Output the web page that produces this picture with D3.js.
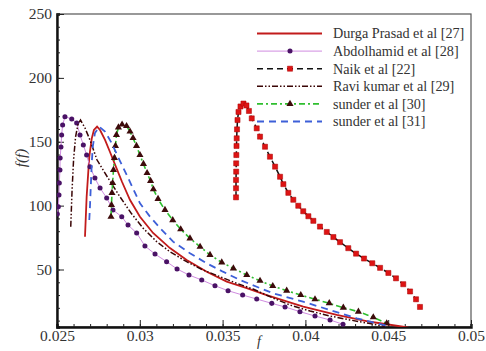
<!DOCTYPE html>
<html>
<head>
<meta charset="utf-8">
<script src="https://cdn.jsdelivr.net/npm/d3@7"></script>
<style>
  html, body { margin: 0; padding: 0; background: #fff; }
  svg { display: block; }
  svg text { font-family: "Liberation Serif", "DejaVu Serif", "Times New Roman", Times, serif; fill: #333; }
</style>
</head>
<body>
<svg id="chart" width="486" height="351"></svg>
<script>
const X_TICKS = [0.025, 0.03, 0.035, 0.04, 0.045, 0.05];
const X_TICK_LABELS = ["0.025", "0.03", "0.035", "0.04", "0.045", "0.05"];
const Y_TICKS = [50, 100, 150, 200, 250];

const durgaPrasad = [
  [0.02669, 75.7], [0.02679, 107], [0.02695, 138.3], [0.02710, 152.7], [0.02723, 159.2],
  [0.02742, 161.9], [0.02760, 159.2], [0.02790, 151.4], [0.02820, 142.0], [0.02856, 130.3],
  [0.02893, 118.5], [0.02941, 104.4], [0.03001, 91.3], [0.03080, 78.6], [0.03182, 66.8],
  [0.03283, 57.4], [0.03404, 48.2], [0.03525, 40.5], [0.03646, 35.5], [0.03766, 30.0],
  [0.03987, 20.9], [0.04189, 14.4], [0.04390, 9.1], [0.04589, 5.2], [0.0466, 3.5],
];

const abdolhamid = [
  [0.02502, 93.4], [0.02508, 99.2], [0.02512, 108.3], [0.02514, 117.7], [0.02518, 127.9],
  [0.02519, 137.3], [0.02524, 145.9], [0.02528, 155.3], [0.02534, 163.1], [0.02548, 169.6],
  [0.02589, 167.8], [0.02619, 164.7], [0.02639, 155.3], [0.02659, 147.5], [0.02679, 139.6],
  [0.02699, 130.5], [0.02729, 121.6], [0.02760, 113.8], [0.02800, 106.0], [0.02838, 96.6],
  [0.02891, 91.3], [0.02929, 84.8], [0.02981, 78.6], [0.03031, 68.4], [0.03092, 62.1],
  [0.03162, 56.1], [0.03225, 50.4], [0.03297, 45.7], [0.03374, 41.8], [0.03454, 37.3],
  [0.03533, 33.4], [0.03621, 30.0], [0.03706, 26.9], [0.03797, 23.5], [0.03877, 20.7],
  [0.03967, 17.0], [0.04058, 13.6], [0.04149, 10.5], [0.04227, 7.1],
];

const naik = [
  [0.03581, 106.5], [0.03581, 113.6], [0.03581, 120.1], [0.03582, 126.6], [0.03582, 133.1],
  [0.03583, 139.6], [0.03584, 146.7], [0.03585, 152.7], [0.03587, 159.7], [0.03590, 167.0],
  [0.03596, 173.3], [0.03608, 177.6], [0.03626, 179.9], [0.03644, 178.4], [0.03659, 174.1],
  [0.03676, 168.3], [0.03706, 160.5], [0.03726, 154.0], [0.03756, 146.1], [0.03786, 138.3],
  [0.03817, 130.5], [0.03847, 122.6], [0.03867, 116.8], [0.03897, 110.0], [0.03927, 104.6],
  [0.03957, 99.9], [0.03987, 95.6], [0.04018, 91.7], [0.04048, 88.1], [0.04088, 83.6],
  [0.04129, 79.4], [0.04169, 75.4], [0.04209, 71.4], [0.04259, 66.7], [0.04306, 62.4],
  [0.04354, 58.6], [0.04404, 54.9], [0.04451, 51.3], [0.04501, 47.3], [0.04547, 43.1],
  [0.04591, 38.5], [0.04632, 32.8], [0.04668, 26.7], [0.04692, 20.7],
];

const raviKumar = [
  [0.02583, 83.5], [0.02591, 112.2], [0.02600, 135.7], [0.02612, 153.7], [0.02627, 163.9],
  [0.02642, 167.0], [0.02669, 160.8], [0.02699, 151.4], [0.02742, 135.7], [0.02808, 121.6],
  [0.02880, 107.0], [0.02947, 94.2], [0.03019, 82.5], [0.03102, 71.8], [0.03182, 63.9],
  [0.03283, 56.1], [0.03382, 49.6], [0.03484, 44.4], [0.03585, 39.2], [0.03684, 34.7],
  [0.03804, 27.7], [0.03907, 22.2], [0.04028, 17.5], [0.04149, 13.6], [0.04269, 10.5],
  [0.04390, 7.7], [0.04481, 5.4],
];

const sunder30 = [
  [0.02826, 91.3], [0.02829, 100.5], [0.02832, 109.9], [0.02836, 117.7], [0.02841, 127.9],
  [0.02847, 137.3], [0.02853, 146.7], [0.02859, 155.3], [0.02871, 161.2], [0.02893, 163.5],
  [0.02920, 162.3], [0.02941, 158.0], [0.02959, 152.9], [0.02980, 146.7], [0.03001, 139.6],
  [0.03022, 132.6], [0.03044, 125.5], [0.03065, 119.3], [0.03082, 112.8], [0.03110, 105.2],
  [0.03152, 96.6], [0.03199, 88.7], [0.03247, 81.5], [0.03303, 74.4], [0.03364, 67.8],
  [0.03424, 61.4], [0.03495, 55.6], [0.03565, 50.9], [0.03646, 45.7], [0.03726, 41.2],
  [0.03803, 37.1], [0.03887, 33.4], [0.03972, 30.0], [0.04058, 26.7], [0.04144, 23.6],
  [0.04229, 20.1], [0.04320, 17.0], [0.04410, 12.6], [0.04491, 7.9],
];

const sunder31 = [
  [0.02695, 88.7], [0.02699, 99.2], [0.02704, 114.8], [0.02710, 133.4], [0.02716, 146.1],
  [0.02729, 156.8], [0.02755, 161.8], [0.02790, 157.9], [0.02830, 149.0], [0.02868, 138.3],
  [0.02921, 124.0], [0.03001, 101.8], [0.03062, 91.3], [0.03122, 82.5], [0.03201, 71.8],
  [0.03303, 62.7], [0.03404, 54.9], [0.03502, 48.3], [0.03605, 41.8], [0.03706, 36.5],
  [0.03804, 31.4], [0.03986, 24.8], [0.04149, 18.3], [0.04310, 11.8], [0.04431, 7.9],
  [0.04499, 5.8],
];

const SERIES = [
  { label: "Durga Prasad et al [27]", data: durgaPrasad, color: "#c21b1b", width: 1.8, dash: null, marker: null },
  { label: "Abdolhamid et al [28]", data: abdolhamid, color: "#d08ce0", width: 1, dash: null, marker: "circle", markerColor: "#4a1266", size: 20 },
  { label: "Naik et al [22]", data: naik, color: "#111", width: 1.5, dash: "6,4", marker: "square", markerColor: "#dd1414", size: 26 },
  { label: "Ravi kumar et al [29]", data: raviKumar, color: "#3a0505", width: 1.5, dash: "6,2,1.5,2,1.5,2", marker: null },
  { label: "sunder et al [30]", data: sunder30, color: "#2fbf2f", width: 1.6, dash: "6,3,2,3", marker: "triangle", markerColor: "#3d0b0b", size: 22 },
  { label: "sunder et al [31]", data: sunder31, color: "#3d5fd8", width: 1.8, dash: "7,5", marker: null },
];

const svg = d3.select("#chart");
const margin = { left: 57, right: 15, top: 14, bottom: 24 };
const width = 486, height = 351;
const plotRight = width - margin.right;
const plotBottom = height - margin.bottom;

const x = d3.scaleLinear().domain([0.025, 0.05]).range([margin.left, plotRight]);
const y = d3.scaleLinear().domain([5, 250]).range([plotBottom, margin.top]);

svg.append("defs").append("clipPath").attr("id", "plot-clip")
  .append("rect")
  .attr("x", margin.left).attr("y", margin.top)
  .attr("width", plotRight - margin.left).attr("height", plotBottom - margin.top);

// frame: thin top/right, heavy left/bottom
svg.append("rect")
  .attr("x", margin.left).attr("y", margin.top)
  .attr("width", plotRight - margin.left).attr("height", plotBottom - margin.top)
  .attr("fill", "none").attr("stroke", "#555").attr("stroke-width", 1.2);

const xAxis = svg.append("g").attr("transform", `translate(0,${plotBottom})`);
xAxis.call(d3.axisBottom(x).tickValues(d3.range(25, 51).map((d) => d / 1000))
  .tickSize(-3).tickFormat(""));
xAxis.append("g").call(d3.axisBottom(x).tickValues(X_TICKS).tickSize(-7)
  .tickFormat((d, i) => X_TICK_LABELS[i]).tickPadding(3))
  .call((g) => g.select(".domain").remove());

const yAxis = svg.append("g").attr("transform", `translate(${margin.left},0)`);
yAxis.call(d3.axisLeft(y).tickValues(d3.range(10, 251, 10)).tickSize(-3).tickFormat(""));
yAxis.append("g").call(d3.axisLeft(y).tickValues(Y_TICKS).tickSize(-7).tickPadding(5))
  .call((g) => g.select(".domain").remove());

svg.selectAll(".domain").attr("stroke", "#111").attr("stroke-width", 2.4);
svg.selectAll(".tick line").attr("stroke", "#222").attr("stroke-width", 1);
svg.selectAll(".tick text").attr("font-size", 15.5).attr("fill", "#333");

svg.append("text")
  .attr("x", x(0.0372)).attr("y", 346)
  .attr("text-anchor", "middle")
  .attr("font-size", 14).attr("font-style", "italic")
  .text("f");

svg.append("text")
  .attr("transform", "translate(26,158) rotate(-90)")
  .attr("text-anchor", "middle")
  .attr("font-size", 15).attr("font-style", "italic")
  .text("f(f)");

const line = d3.line().x((d) => x(d[0])).y((d) => y(d[1]));
const plot = svg.append("g").attr("clip-path", "url(#plot-clip)");

for (const s of SERIES) {
  plot.append("path")
    .attr("d", line(s.data))
    .attr("fill", "none")
    .attr("stroke", s.color)
    .attr("stroke-width", s.width)
    .attr("stroke-dasharray", s.dash);
  if (s.marker) {
    drawMarkers(plot, s, s.data.map((d) => [x(d[0]), y(d[1])]));
  }
}

function drawMarkers(g, s, points) {
  const sel = g.append("g").selectAll("path").data(points).join("path")
    .attr("transform", (p) => `translate(${p[0]},${p[1]})`)
    .attr("fill", s.markerColor);
  if (s.marker === "circle") {
    sel.attr("d", d3.symbol(d3.symbolCircle, s.size));
  } else if (s.marker === "square") {
    sel.attr("d", d3.symbol(d3.symbolSquare, s.size)).attr("stroke", "#a00").attr("stroke-width", 0.5);
  } else {
    sel.attr("d", d3.symbol(d3.symbolTriangle, s.size));
  }
}

// legend
const legend = svg.append("g");
SERIES.forEach((s, i) => {
  const ly = 33.5 + i * 17.6;
  legend.append("line")
    .attr("x1", 257).attr("x2", 322).attr("y1", ly).attr("y2", ly)
    .attr("stroke", s.color).attr("stroke-width", s.width)
    .attr("stroke-dasharray", s.dash);
  if (s.marker) drawMarkers(legend, s, [[290, ly]]);
  legend.append("text")
    .attr("x", 333).attr("y", ly).attr("dy", "0.35em")
    .attr("font-size", 14.2).attr("fill", "#222")
    .text(s.label);
});
</script>
</body>
</html>
